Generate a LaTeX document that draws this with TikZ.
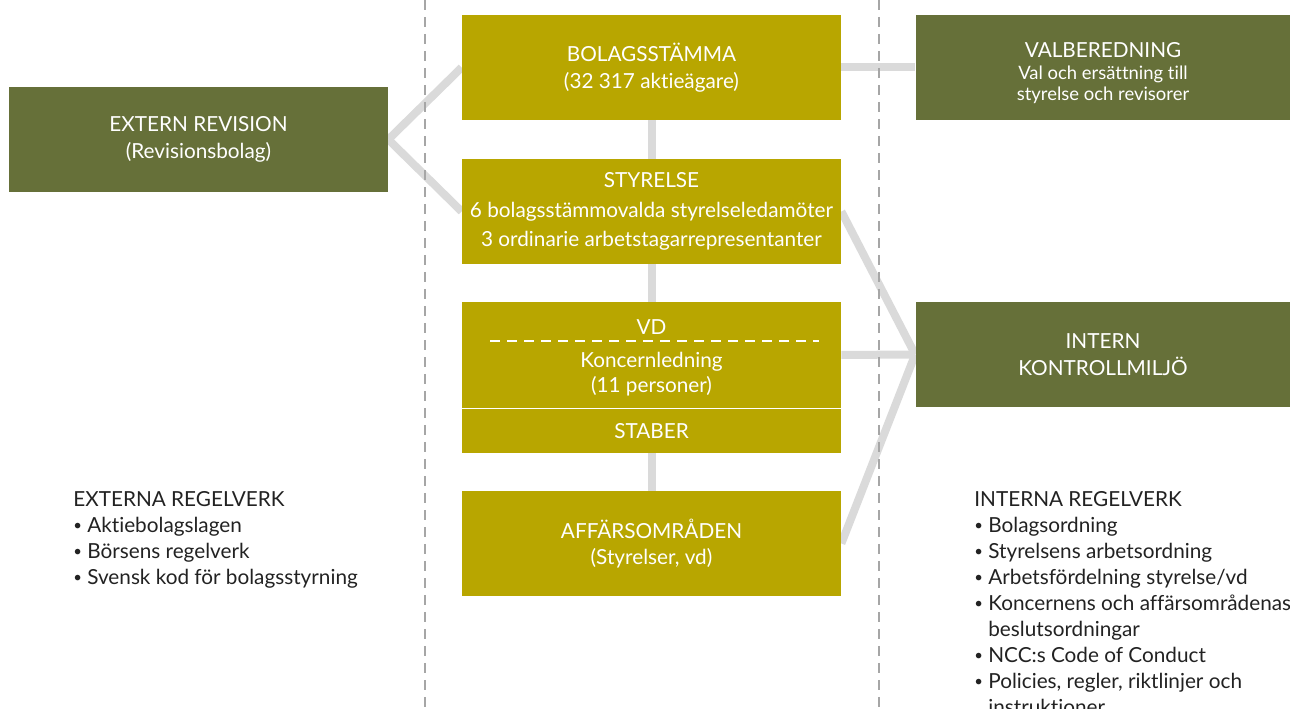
\documentclass[tikz,border=0pt]{standalone}
\usepackage{fontspec}
\setmainfont{Lato}[Ligatures={NoCommon}]
\usetikzlibrary{backgrounds}
\definecolor{olivebox}{HTML}{B8A600}
\definecolor{greenbox}{HTML}{667039}
\definecolor{linkgray}{HTML}{DADADA}
\definecolor{listtext}{HTML}{222222}
\newcommand{\listbul}{\raisebox{0.1em}{\fontsize{8.5}{8.5}\selectfont\textbullet}\ }
\tikzset{
  midbox/.style={fill=olivebox, text=white, inner sep=0pt, minimum width=7.58cm, minimum height=2.10cm, align=center, font=\fontsize{11.8}{15.5}\selectfont},
  sidebox/.style={fill=greenbox, text=white, inner sep=0pt, minimum width=7.50cm, minimum height=2.10cm, align=center, font=\fontsize{11.8}{15.5}\selectfont},
  link/.style={line width=0.16cm, draw=linkgray, line cap=butt},
  divider/.style={line width=1.1pt, draw=black!35, dash pattern=on 0.2cm off 0.14cm},
  rulelist/.style={text=listtext, anchor=north west, inner sep=0pt, align=left, font=\fontsize{11.8}{14.8}\selectfont},
}

\begin{document}
\begin{tikzpicture}
\useasboundingbox (0,0) rectangle (25.8,14.18);
\draw[divider] (8.50,14.18) -- (8.50,0);
\draw[divider] (17.58,14.18) -- (17.58,0);
\node[midbox] (stamma) at (13.03,12.83) {BOLAGSSTÄMMA\\(32 317 aktieägare)};
\node[midbox, font=\fontsize{11.8}{17}\selectfont] (styrelse) at (13.03,9.95) {STYRELSE\\6 bolagsstämmovalda styrelseledamöter\\3 ordinarie arbetstagarrepresentanter};
\node[midbox, minimum height=2.12cm, font=\fontsize{11.8}{14.5}\selectfont] (vd) at (13.03,7.08) {\rule{0pt}{12pt}VD\\[4pt]Koncernledning\\(11 personer)};
\node[midbox, minimum height=0.88cm] (staber) at (13.03,5.56) {STABER};
\node[midbox, font=\fontsize{11.8}{14.8}\selectfont] (affar) at (13.03,3.31) {AFFÄRSOMRÅDEN\\(Styrelser, vd)};
\node[sidebox, minimum width=7.58cm] (revision) at (3.97,11.39) {EXTERN REVISION\\(Revisionsbolag)};
\node[sidebox, font=\fontsize{10.5}{12}\selectfont] (valberedning) at (22.06,12.83) {{\fontsize{11.8}{12}\selectfont\rule{0pt}{15pt}VALBEREDNING}\\Val och ersättning till\\styrelse och revisorer};
\node[sidebox] (kontroll) at (22.06,7.09) {INTERN\\KONTROLLMILJÖ};
\draw[white, line width=0.9pt, dash pattern=on 0.2cm off 0.14cm] (9.80,7.36) -- (16.38,7.36);
\begin{scope}[on background layer]
\draw[link] (revision.east) -- (stamma.west);
\draw[link] (revision.east) -- (styrelse.west);
\draw[link] (stamma.east) -- (valberedning.west);
\draw[link] (stamma.south) -- (styrelse.north);
\draw[link] (styrelse.south) -- (vd.north);
\draw[link] (staber.south) -- (affar.north);
\draw[link] (styrelse.east) -- (kontroll.west);
\draw[link] (vd.east) -- (kontroll.west);
\draw[link] (affar.east) -- (kontroll.west);
\end{scope}
\node[rulelist] (extern) at (1.46,4.36) {EXTERNA REGELVERK\\\listbul Aktiebolagslagen\\\listbul Börsens regelverk\\\listbul Svensk kod för bolagsstyrning};
\node[rulelist] (intern) at (19.48,4.36) {INTERNA REGELVERK\\\listbul Bolagsordning\\\listbul Styrelsens arbetsordning\\\listbul Arbetsfördelning styrelse/vd\\\listbul Koncernens och affärsområdenas\\\phantom{\listbul}beslutsordningar\\\listbul NCC:s Code of Conduct\\\listbul Policies, regler, riktlinjer och\\\phantom{\listbul}instruktioner};
\end{tikzpicture}
\end{document}
